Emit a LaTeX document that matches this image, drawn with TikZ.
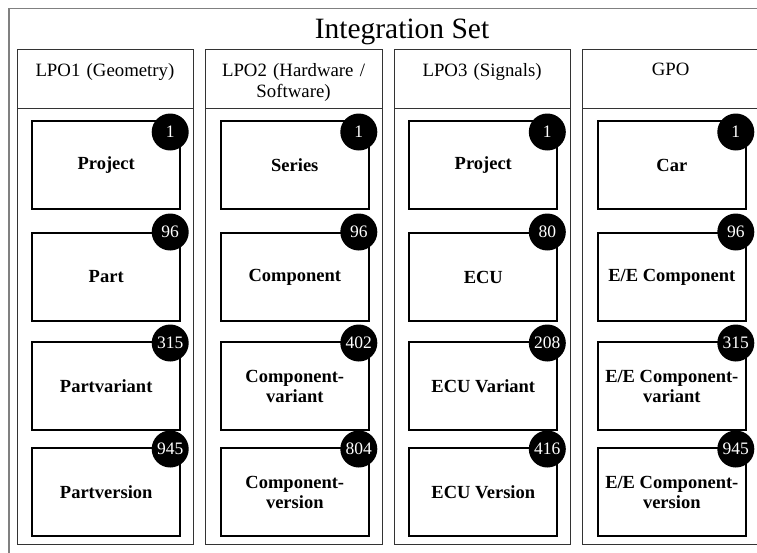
\documentclass[tikz,border=0pt]{standalone}
\usepackage{fontspec}
\setmainfont{Liberation Serif}
\newcommand\mkentry[7]{%
  \node[ebox, anchor=north west] (b#1#2) at (#3+14.5,#4) {#6};
  \node[badge] (n#1#2) at (#3+153.5,#5) {#7};
}
\newcommand\mkcolumn[3]{%
  \node[colframe, anchor=north west, minimum width=176.5pt, minimum height=59pt] (h#1) at (#2,49) {};
  \node[colframe, anchor=north west, minimum width=176.5pt, minimum height=436pt] (c#1) at (#2,108) {};
  \node[hdr] (t#1) at (#2+88.25,63) {#3};
}
\begin{document}
\begin{tikzpicture}[x=1pt,y=-1pt,
  outerframe/.style={draw=black!50, line width=1.6pt, inner sep=0pt},
  colframe/.style={draw=black!80, line width=1.1pt, inner sep=0pt},
  ebox/.style={draw=black, line width=2pt, fill=white, minimum width=148pt, minimum height=88pt, inner sep=0pt, align=center, font=\fontsize{18.5}{20}\selectfont\bfseries},
  badge/.style={circle, fill=black, text=white, minimum size=37pt, inner sep=0pt, font=\fontsize{17.5}{17.5}\selectfont},
  hdr/.style={align=center, anchor=north, inner sep=0pt, text width=170pt, font=\fontsize{18.8}{21.6}\selectfont},
  ttl/.style={anchor=base, inner sep=0pt, font=\fontsize{29.5}{31}\selectfont}
]
\useasboundingbox (0,0) rectangle (757,552);
\clip (0,0) rectangle (757,552);
\node[outerframe, anchor=north west, minimum width=780pt, minimum height=580pt] (outer) at (8,7.5) {};
\node[ttl] (title) at (402,38.3) {Integration Set};

\mkcolumn{1}{16.7}{LPO1 (Geometry)}
\mkcolumn{2}{205.3}{LPO2 (Hardware /\\Software)}
\mkcolumn{3}{393.8}{LPO3 (Signals)}
\mkcolumn{4}{582.3}{GPO}

% column 1
\mkentry{1}{1}{16.7}{120}{132}{Project}{1}
\mkentry{1}{2}{16.7}{232}{232}{Part}{96}
\mkentry{1}{3}{16.7}{341}{343}{Partvariant}{315}
\mkentry{1}{4}{16.7}{447}{449}{Partversion}{945}
% column 2
\mkentry{2}{1}{205.3}{120}{132}{Series}{1}
\mkentry{2}{2}{205.3}{232}{232}{Component}{96}
\mkentry{2}{3}{205.3}{341}{343}{Component-\\variant}{402}
\mkentry{2}{4}{205.3}{447}{449}{Component-\\version}{804}
% column 3
\mkentry{3}{1}{393.8}{120}{132}{Project}{1}
\mkentry{3}{2}{393.8}{232}{232}{ECU}{80}
\mkentry{3}{3}{393.8}{341}{343}{ECU Variant}{208}
\mkentry{3}{4}{393.8}{447}{449}{ECU Version}{416}
% column 4
\mkentry{4}{1}{582.3}{120}{132}{Car}{1}
\mkentry{4}{2}{582.3}{232}{232}{E/E Component}{96}
\mkentry{4}{3}{582.3}{341}{343}{E/E Component-\\variant}{315}
\mkentry{4}{4}{582.3}{447}{449}{E/E Component-\\version}{945}
\end{tikzpicture}
\end{document}
